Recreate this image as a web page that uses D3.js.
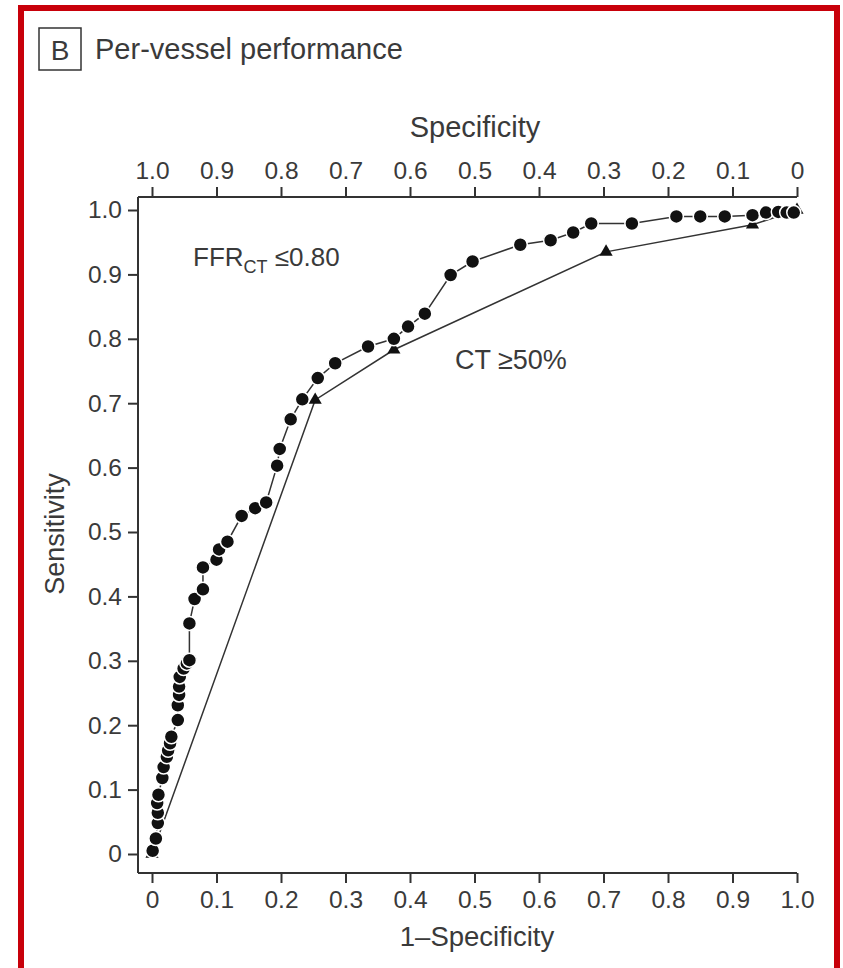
<!DOCTYPE html>
<html>
<head>
<meta charset="UTF-8">
<script src="https://d3js.org/d3.v7.min.js"></script>
<style>
  body { margin: 0; background: #fff; }
  svg text { font-family: "Liberation Sans", Arial, Helvetica, sans-serif; fill: #3a3a3a; }
  .axis path, .axis line { stroke: #333; stroke-width: 2; }
  .axis text { font-size: 24.5px; fill: #3a3a3a; }
</style>
</head>
<body>
<div id="chart"></div>
<script>
// FFR-CT <= 0.80 curve (1-specificity, sensitivity)
var ffrX = [0.001, 0.006, 0.009, 0.009, 0.008, 0.010, 0.016, 0.018, 0.023, 0.025, 0.028, 0.030,
            0.040, 0.040, 0.042, 0.042, 0.043, 0.049, 0.054, 0.058, 0.058, 0.066, 0.079, 0.079,
            0.100, 0.104, 0.117, 0.139, 0.160, 0.177, 0.194, 0.198, 0.215, 0.233, 0.257, 0.284,
            0.335, 0.375, 0.397, 0.423, 0.463, 0.497, 0.571, 0.618, 0.653, 0.681, 0.744, 0.813,
            0.850, 0.888, 0.931, 0.952, 0.971, 0.984, 0.995];
var ffrY = [0.005, 0.024, 0.048, 0.064, 0.079, 0.092, 0.118, 0.135, 0.151, 0.161, 0.172, 0.182,
            0.208, 0.231, 0.247, 0.260, 0.275, 0.288, 0.296, 0.301, 0.358, 0.396, 0.411, 0.445,
            0.457, 0.473, 0.485, 0.525, 0.537, 0.546, 0.603, 0.629, 0.675, 0.706, 0.739, 0.762,
            0.788, 0.800, 0.819, 0.839, 0.899, 0.920, 0.946, 0.953, 0.965, 0.979, 0.979, 0.990,
            0.990, 0.990, 0.992, 0.996, 0.997, 0.996, 0.996];

// CT >= 50% stenosis curve
var ctX = [0, 0.253, 0.375, 0.704, 0.931, 1];
var ctY = [0, 0.705, 0.783, 0.935, 0.977, 1];

var tickVals = [0, 0.1, 0.2, 0.3, 0.4, 0.5, 0.6, 0.7, 0.8, 0.9, 1.0];

var W = 843, H = 968;
var plotLeft = 138, plotTop = 197, plotBottom = 873;

var svg = d3.select("#chart").append("svg")
    .attr("width", W)
    .attr("height", H);

// red frame
svg.append("rect")
    .attr("x", 21).attr("y", 8)
    .attr("width", 816).attr("height", 1000)
    .attr("fill", "none")
    .attr("stroke", "#c8000a")
    .attr("stroke-width", 6);

// panel title
svg.append("rect")
    .attr("x", 39).attr("y", 28)
    .attr("width", 42).attr("height", 42)
    .attr("fill", "none")
    .attr("stroke", "#333")
    .attr("stroke-width", 1.5);
svg.append("text").attr("x", 60).attr("y", 60)
    .attr("text-anchor", "middle").style("font-size", "28px").text("B");
svg.append("text").attr("x", 95).attr("y", 59)
    .style("font-size", "29px").text("Per-vessel performance");

var x = d3.scaleLinear().domain([0, 1]).range([152, 797]);
var xs = d3.scaleLinear().domain([1, 0]).range([152, 797]);
var y = d3.scaleLinear().domain([0, 1]).range([854, 210]);

var fmt = function(d) { return d === 0 ? "0" : d3.format(".1f")(d); };

// bottom axis
var gb = svg.append("g").attr("class", "axis")
    .attr("transform", "translate(0," + plotBottom + ")")
    .call(d3.axisBottom(x).tickValues(tickVals).tickFormat(fmt).tickSize(10).tickPadding(8));
gb.select(".domain").remove();
gb.append("line").attr("x1", plotLeft).attr("x2", x(1)).attr("y1", 0).attr("y2", 0);

// top axis (specificity)
var gt = svg.append("g").attr("class", "axis")
    .attr("transform", "translate(0," + plotTop + ")")
    .call(d3.axisTop(xs).tickValues(tickVals).tickFormat(fmt).tickSize(10).tickPadding(8));
gt.select(".domain").remove();
gt.append("line").attr("x1", plotLeft).attr("x2", x(1)).attr("y1", 0).attr("y2", 0);

// left axis
var gl = svg.append("g").attr("class", "axis")
    .attr("transform", "translate(" + plotLeft + ",0)")
    .call(d3.axisLeft(y).tickValues(tickVals).tickFormat(fmt).tickSize(10).tickPadding(6));
gl.select(".domain").remove();
gl.append("line").attr("x1", 0).attr("x2", 0).attr("y1", plotTop).attr("y2", plotBottom);

svg.selectAll(".axis line").attr("stroke", "#333").attr("stroke-width", 2);

// axis titles
svg.append("text").attr("x", 475).attr("y", 137)
    .attr("text-anchor", "middle").style("font-size", "29px").text("Specificity");
svg.append("text").attr("x", 477).attr("y", 946)
    .attr("text-anchor", "middle").style("font-size", "27.5px").text("1\u2013Specificity");
svg.append("text")
    .attr("transform", "translate(64,534) rotate(-90)")
    .attr("text-anchor", "middle").style("font-size", "27px").text("Sensitivity");

// CT curve
var ctData = ctX.map(function(d, i) { return [d, ctY[i]]; });
var line = d3.line().x(function(d) { return x(d[0]); }).y(function(d) { return y(d[1]); });

svg.append("path").datum(ctData)
    .attr("d", line)
    .attr("fill", "none")
    .attr("stroke", "#333")
    .attr("stroke-width", 1.5);

svg.selectAll(".tri").data(ctData).enter().append("path")
    .attr("class", "tri")
    .attr("transform", function(d) { return "translate(" + x(d[0]) + "," + y(d[1]) + ")"; })
    .attr("d", d3.symbol().type(d3.symbolTriangle).size(75))
    .attr("fill", "#111");

// FFR curve
var ffrData = ffrX.map(function(d, i) { return [d, ffrY[i]]; });
svg.append("path").datum(ffrData)
    .attr("d", line)
    .attr("fill", "none")
    .attr("stroke", "#333")
    .attr("stroke-width", 1.5);

svg.selectAll(".dot").data(ffrData).enter().append("circle")
    .attr("class", "dot")
    .attr("cx", function(d) { return x(d[0]); })
    .attr("cy", function(d) { return y(d[1]); })
    .attr("r", 7)
    .attr("fill", "#111")
    .attr("stroke", "#fff")
    .attr("stroke-width", 1.5);

// annotations
var ffrLab = svg.append("text").attr("x", 193).attr("y", 266).style("font-size", "26px");
ffrLab.append("tspan").text("FFR");
ffrLab.append("tspan").attr("dy", 7).style("font-size", "18px").text("CT");
ffrLab.append("tspan").attr("dy", -7).text(" \u22640.80");

svg.append("text").attr("x", 455).attr("y", 369)
    .style("font-size", "27px").text("CT \u226550%");
</script>
</body>
</html>
